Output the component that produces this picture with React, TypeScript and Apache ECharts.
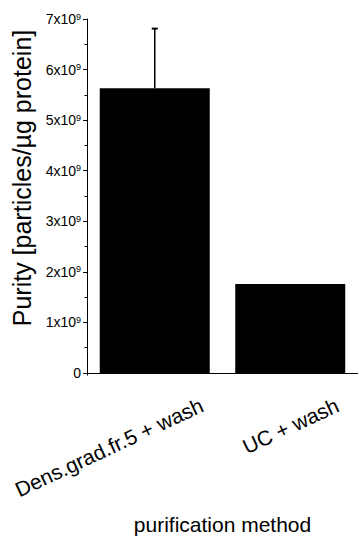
import React, { useEffect, useRef } from "react";
import * as echarts from "echarts";

const categories = ["Dens.grad.fr.5 + wash", "UC + wash"];
const purity = [5.63e9, 1.76e9];
const errorUp = [1.18e9, 0];
const yMin = 0;
const yMax = 7e9;
const yInterval = 1e9;
const yExponent = 9;
const yAxisTitle = "Purity [particles/µg protein]";
const xAxisTitle = "purification method";

const FONT = "'Liberation Sans', Arial, Helvetica, sans-serif";

export default function App() {
  const ref = useRef<HTMLDivElement>(null);

  useEffect(() => {
    if (!ref.current) return;
    const chart = echarts.init(ref.current, null, { renderer: "svg" });
    const errData = purity.map((v, i) => [i, v, v + errorUp[i]]);

    chart.setOption({
      animation: false,
      backgroundColor: "#fff",
      grid: { left: 87, top: 19, width: 273, height: 362 },
      xAxis: [
        {
          type: "category",
          data: categories,
          axisLine: { lineStyle: { color: "#000", width: 1 } },
          axisTick: { alignWithLabel: true, length: 4, lineStyle: { color: "#000", width: 1 } },
          axisLabel: {
            interval: 0,
            rotate: 25,
            margin: 53,
            fontSize: 21,
            fontFamily: FONT,
            color: "#000",
            padding: [0, -52, 0, 0],
          },
          name: xAxisTitle,
          nameLocation: "middle",
          nameGap: 141,
          nameTextStyle: { fontSize: 21, fontFamily: FONT, color: "#000" },
        },
        {
          type: "category",
          data: categories,
          position: "bottom",
          axisLine: { show: false },
          axisTick: { show: true, length: 2.5, lineStyle: { color: "#000", width: 1 } },
          axisLabel: { show: false },
          splitLine: { show: false },
        },
      ],
      yAxis: {
        type: "value",
        min: yMin,
        max: yMax,
        interval: yInterval,
        axisLine: { show: true, lineStyle: { color: "#000", width: 1 } },
        axisTick: { show: true, length: 4, lineStyle: { color: "#000", width: 1 } },
        minorTick: { show: true, splitNumber: 2, length: 2.5, lineStyle: { color: "#000", width: 1 } },
        splitLine: { show: false },
        axisLabel: {
          margin: 6,
          formatter: (v: number) =>
            v === 0 ? "{b|0}" : `{b|${Math.round(v / Math.pow(10, yExponent))}x10}{s|${yExponent}}`,
          rich: {
            b: { fontSize: 14, fontFamily: FONT, color: "#000" },
            s: { fontSize: 9, fontFamily: FONT, color: "#000", verticalAlign: "top" },
          },
        },
        name: yAxisTitle,
        nameLocation: "middle",
        nameGap: 52,
        nameTextStyle: { fontSize: 25, fontFamily: FONT, color: "#000", padding: [0, 0, 0, 36] },
      },
      series: [
        {
          type: "bar",
          data: purity,
          barWidth: 110,
          itemStyle: { color: "#000" },
          z: 2,
        },
        {
          type: "custom",
          data: errData,
          encode: { x: 0, y: [1, 2] },
          z: 3,
          renderItem: (_params: any, api: any) => {
            const i = api.value(0);
            const lo = api.value(1);
            const hi = api.value(2);
            if (!(hi > lo)) return null;
            const p0 = api.coord([i, lo]);
            const p1 = api.coord([i, hi]);
            return {
              type: "group",
              children: [
                {
                  type: "line",
                  shape: { x1: p0[0], y1: p0[1], x2: p1[0], y2: p1[1] },
                  style: { stroke: "#000", lineWidth: 1.5 },
                },
                {
                  type: "line",
                  shape: { x1: p1[0] - 3, y1: p1[1], x2: p1[0] + 3, y2: p1[1] },
                  style: { stroke: "#000", lineWidth: 2 },
                },
              ],
            };
          },
        },
      ],
    });

    return () => chart.dispose();
  }, []);

  return (
    <div
      ref={ref}
      style={{ position: "fixed", left: 0, top: 0, width: 358, height: 540, background: "#fff" }}
    />
  );
}
